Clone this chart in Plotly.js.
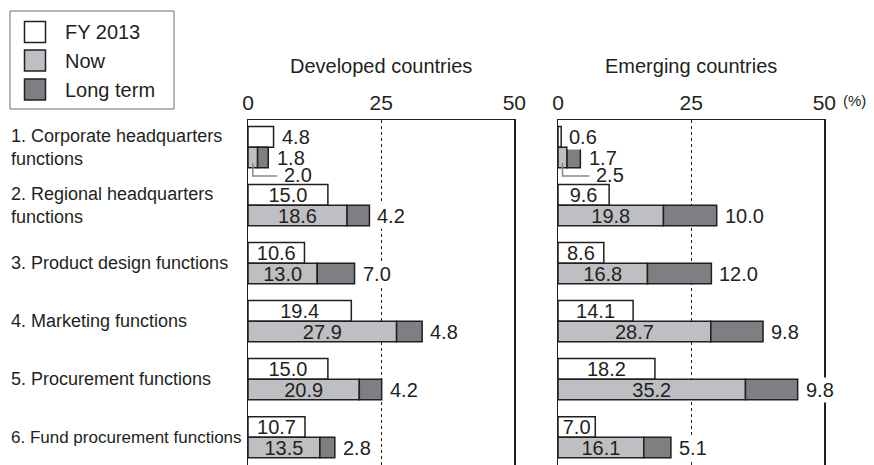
<!DOCTYPE html>
<html>
<head>
<meta charset="utf-8">
<script src="https://cdn.plot.ly/plotly-3.0.1.min.js"></script>
<style>html,body{margin:0;padding:0;background:#fff;}#chart{width:874px;height:465px;}</style>
</head>
<body>
<div id="chart"></div>
<script>
// ---- data ----
var categories = [
  "1. Corporate headquarters<br>functions",
  "2. Regional headquarters<br>functions",
  "3. Product design functions",
  "4. Marketing functions",
  "5. Procurement functions",
  "6. Fund procurement functions"
];
var seriesNames = ["FY 2013", "Now", "Long term"];
var panelTitles = ["Developed countries", "Emerging countries"];
var tickValues = [0, 25, 50];
var unitLabel = "(%)";

var devFY2013 = [4.8, 15.0, 10.6, 19.4, 15.0, 10.7];
var devNow    = [1.8, 18.6, 13.0, 27.9, 20.9, 13.5];
var devLong   = [2.0, 4.2, 7.0, 4.8, 4.2, 2.8];

var emgFY2013 = [0.6, 9.6, 8.6, 14.1, 18.2, 7.0];
var emgNow    = [1.7, 19.8, 16.8, 28.7, 35.2, 16.1];
var emgLong   = [2.5, 10.0, 12.0, 9.8, 9.8, 5.1];

// ---- styling / layout helpers ----
var W = 874, H = 465;
var FONT = "Liberation Sans, Arial, Helvetica, sans-serif";
var INK = "#231f20";
var colors = ["#ffffff", "#bebfc3", "#7e7f83"];
function px(x) { return x / W; }
function py(y) { return 1 - y / H; }
var BW = 0.355;
var lineStyle = {color: INK, width: 1.5};

function fmt(v) { return v.toFixed(1); }

var annotations = [];
var shapes = [];

function outsideLabel(xa, ya, xv, yv, txt) {
  annotations.push({xref: xa, yref: ya, x: xv, y: yv, xanchor: "left", yanchor: "middle", xshift: 6,
    text: txt, showarrow: false, bgcolor: "#ffffff", borderpad: 1,
    font: {family: FONT, size: 20, color: INK}});
}

function panelTraces(fy, now, lng, xa, ya) {
  var fyInside = fy.map(function (v) { return v >= 6; });
  // labels outside the bars, placed through the axis scales
  fy.forEach(function (v, i) { if (!fyInside[i]) outsideLabel(xa, ya, v, i - BW / 2, fmt(v)); });
  lng.forEach(function (v, i) { if (i > 0) outsideLabel(xa, ya, now[i] + v, i + BW / 2, fmt(v)); });
  return [
    {
      type: "bar", orientation: "h", y: categories, x: fy, name: seriesNames[0],
      xaxis: xa, yaxis: ya, offset: -BW, width: BW,
      marker: {color: colors[0], line: lineStyle},
      text: fy.map(function (v, i) { return fyInside[i] ? fmt(v) : ""; }),
      textposition: "inside", insidetextanchor: "middle", constraintext: "none", cliponaxis: false,
      textfont: {family: FONT, size: 20, color: INK},
      showlegend: false, hoverinfo: "skip"
    },
    {
      type: "bar", orientation: "h", y: categories, x: now, name: seriesNames[1],
      xaxis: xa, yaxis: ya, offset: 0, width: BW,
      marker: {color: colors[1], line: lineStyle},
      text: now.map(function (v, i) { return i === 0 ? "" : fmt(v); }),
      textposition: "inside", insidetextanchor: "middle", constraintext: "none", cliponaxis: false,
      textfont: {family: FONT, size: 20, color: INK},
      showlegend: false, hoverinfo: "skip"
    },
    {
      type: "bar", orientation: "h", y: categories, x: lng, base: now, name: seriesNames[2],
      xaxis: xa, yaxis: ya, offset: 0, width: BW,
      marker: {color: colors[2], line: lineStyle},
      cliponaxis: false, showlegend: false, hoverinfo: "skip"
    }
  ];
}

var data = panelTraces(devFY2013, devNow, devLong, "x", "y")
  .concat(panelTraces(emgFY2013, emgNow, emgLong, "x2", "y2"));

var yRange = [5.479, -0.469];
var yTop = py(120);

function xAxis(dom, title, anchor) {
  return {
    domain: dom, range: [0, 50], side: "top", anchor: anchor,
    tickvals: tickValues, ticktext: tickValues.map(String), ticks: "",
    tickfont: {family: FONT, size: 21, color: INK},
    showgrid: true, gridcolor: INK, griddash: "3px,3px", gridwidth: 1,
    showline: true, linecolor: INK, linewidth: 1.5, zeroline: false,
    automargin: false, fixedrange: true,
    title: {text: title, font: {family: FONT, size: 20, color: INK}, standoff: 12}
  };
}
function yAxis(anchor) {
  return {
    domain: [0, yTop], type: "category", range: yRange, anchor: anchor,
    showticklabels: false, ticks: "", showgrid: false, zeroline: false,
    showline: true, mirror: true, linecolor: INK, linewidth: 1.5,
    automargin: false, fixedrange: true
  };
}

// category labels
categories.forEach(function (c, i) {
  annotations.push({
    xref: "paper", yref: "y", x: px(9), y: i, xanchor: "left", yanchor: "middle",
    align: "left", text: c, showarrow: false,
    font: {family: FONT, size: i === 5 ? 17 : 18, color: INK}
  });
});

// unit label
annotations.push({xref: "paper", yref: "paper", x: px(841), y: py(101), xanchor: "left", yanchor: "middle",
  text: unitLabel, showarrow: false, font: {family: FONT, size: 15, color: INK}});

// first row: split labels with leader line
function firstRow(now, lng, xa, ya) {
  var end = now[0] + lng[0];
  annotations.push({xref: xa, yref: ya, x: end, y: 0.19, xanchor: "left", yanchor: "middle", xshift: 7,
    text: fmt(now[0]), showarrow: false, font: {family: FONT, size: 20, color: INK}});
  annotations.push({xref: xa, yref: ya, x: end, y: 0.48, xanchor: "left", yanchor: "middle", xshift: 14,
    text: fmt(lng[0]), showarrow: false, font: {family: FONT, size: 20, color: INK}});
  var sx = now[0] * 0.5;
  shapes.push({type: "path", xref: xa, yref: ya, layer: "above",
    path: "M" + sx + "," + 0.272 + " L" + sx + "," + 0.497 + " L" + (end + 1.7) + "," + 0.497,
    line: {color: "#8a8a8a", width: 1.5}});
}
firstRow(devNow, devLong, "x", "y");
firstRow(emgNow, emgLong, "x2", "y2");

// custom legend
shapes.push({type: "rect", xref: "paper", yref: "paper", x0: px(10), x1: px(174), y0: py(109), y1: py(11),
  line: {color: "#6e6e6e", width: 1}, fillcolor: "#ffffff"});
var legendRows = [32, 60.5, 89.5];
seriesNames.forEach(function (n, i) {
  var cy = legendRows[i];
  shapes.push({type: "rect", xref: "paper", yref: "paper", x0: px(24.5), x1: px(45.5), y0: py(cy + 10.5), y1: py(cy - 10.5),
    line: {color: INK, width: 1.5}, fillcolor: colors[i]});
  annotations.push({xref: "paper", yref: "paper", x: px(63), y: py(cy), xanchor: "left", yanchor: "middle",
    text: n, showarrow: false, font: {family: FONT, size: 20, color: INK}});
});

var layout = {
  width: W, height: H, margin: {l: 0, r: 0, t: 0, b: 0, pad: 0},
  paper_bgcolor: "#ffffff", plot_bgcolor: "rgba(0,0,0,0)",
  barmode: "overlay", showlegend: false,
  font: {family: FONT, color: INK},
  xaxis: xAxis([px(248), px(514.3)], panelTitles[0], "y"),
  yaxis: yAxis("x"),
  xaxis2: xAxis([px(558), px(824.3)], panelTitles[1], "y2"),
  yaxis2: yAxis("x2"),
  annotations: annotations,
  shapes: shapes
};

Plotly.newPlot("chart", data, layout, {displayModeBar: false, staticPlot: true});
</script>
</body>
</html>
